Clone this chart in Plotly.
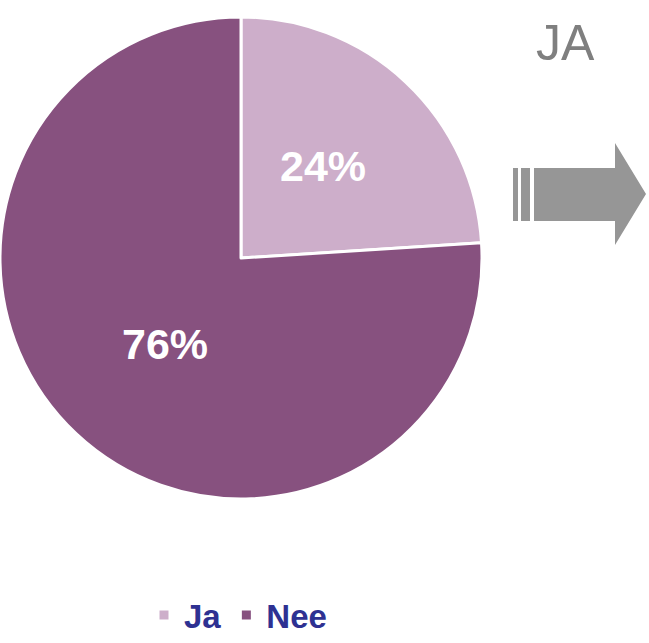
import math
import plotly.graph_objects as go

# Data
categories = ["Ja", "Nee"]
values = [24, 76]
colors = ["#CDAECA", "#87517F"]
side_label = "JA"

W, H = 649, 643

def px(x):
    return x / W

def py(y):
    return 1 - y / H

# pie placement (pixels)
CX, CY = 241, 258
DOM_W, DOM_H = 482, 496

fig = go.Figure()
fig.add_trace(go.Pie(
    labels=categories,
    values=values,
    sort=False,
    direction="clockwise",
    rotation=0,
    marker=dict(colors=colors, line=dict(color="white", width=3)),
    textinfo="none",
    domain=dict(x=[px(CX - DOM_W / 2), px(CX + DOM_W / 2)],
                y=[py(CY + DOM_H / 2), py(CY - DOM_H / 2)]),
    hoverinfo="label+percent",
))

# slice labels placed at half radius along each slice's mid-angle
total = sum(values)
label_r = 116
annotations = []
cum = 0
for v in values:
    mid = (cum + v / 2) / total * 2 * math.pi
    cum += v
    lx = CX + 3 + label_r * math.sin(mid)
    ly = CY - 3 - label_r * math.cos(mid) * 1.05
    annotations.append(dict(
        text=f"{v}%", xref="paper", yref="paper",
        x=px(lx), y=py(ly), xanchor="center", yanchor="middle", showarrow=False,
        font=dict(family="Arial, Liberation Sans, sans-serif", size=43, color="white", weight="bold"),
    ))

annotations.append(dict(
    text=side_label, xref="paper", yref="paper",
    x=px(565), y=py(43), xanchor="center", yanchor="middle",
    showarrow=False,
    font=dict(family="Arial, Liberation Sans, sans-serif", size=50, color="#7F7F7F"),
))

# Arrow (gray), built as paper-space shapes
gray = "#969696"
shapes = []
for x0, x1 in [(513, 518), (521, 530)]:
    shapes.append(dict(type="rect", xref="paper", yref="paper",
                       x0=px(x0), x1=px(x1), y0=py(221), y1=py(168),
                       fillcolor=gray, line=dict(width=0)))
pts = [(534, 168), (615, 168), (615, 143), (646, 194), (615, 245), (615, 221), (534, 221)]
path = "M " + " L ".join(f"{px(x)},{py(y)}" for x, y in pts) + " Z"
shapes.append(dict(type="path", xref="paper", yref="paper", path=path,
                   fillcolor=gray, line=dict(width=0)))

fig.update_layout(
    width=W, height=H,
    margin=dict(l=0, r=0, t=0, b=0, autoexpand=False),
    paper_bgcolor="white",
    plot_bgcolor="white",
    shapes=shapes,
    annotations=annotations,
    showlegend=True,
    legend=dict(
        orientation="h",
        x=px(238), xanchor="center",
        y=0, yanchor="bottom",
        font=dict(family="Arial, Liberation Sans, sans-serif", size=33, color="#2E3192", weight="bold"),
        itemclick=False,
    ),
)

fig.write_html("out.html", config={"displayModeBar": False},
               post_script="document.body.style.margin='0';")
